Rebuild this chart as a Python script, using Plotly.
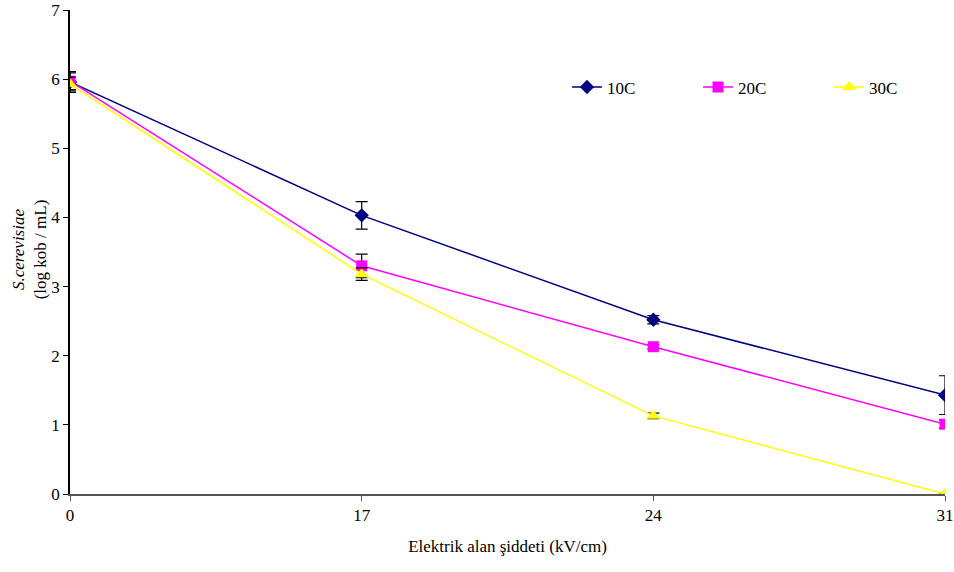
import plotly.graph_objects as go

categories = ["0", "17", "24", "31"]
series_names = ["10C", "20C", "30C"]
y_10c = [5.96, 4.03, 2.52, 1.43]
err_10c = [0.15, 0.20, 0.06, 0.28]
y_20c = [5.97, 3.30, 2.13, 1.01]
err_20c = [0.12, 0.17, 0.03, 0.06]
y_30c = [5.93, 3.18, 1.13, 0.0]
err_30c = [0.10, 0.09, 0.04, 0.0]
y_ticks = [0, 1, 2, 3, 4, 5, 6, 7]

colors = ["#000080", "#FF00FF", "#FFFF00"]
symbols = ["diamond", "square", "triangle-up"]
sizes = [11, 11, 12]

FONT = "'Liberation Serif', 'Times New Roman', Times, serif"
FS = 17
xs = list(range(len(categories)))

fig = go.Figure()
for name, ys, errs, c, s, sz in zip(series_names, [y_10c, y_20c, y_30c],
                                     [err_10c, err_20c, err_30c], colors, symbols, sizes):
    fig.add_trace(go.Scatter(
        x=xs, y=ys, name=name, mode="lines+markers",
        line=dict(color=c, width=1.5),
        marker=dict(symbol=s, size=sz, color=c),
        error_y=dict(type="data", array=errs, visible=True, color="black",
                     thickness=1.2, width=6),
    ))

fig.update_layout(
    width=954, height=572,
    margin=dict(l=70, r=9, t=10, b=78, autoexpand=False),
    plot_bgcolor="white", paper_bgcolor="white",
    font=dict(family=FONT, size=FS, color="black"),
    showlegend=True,
    legend=dict(orientation="h", x=0.568, y=0.84, xanchor="left", yanchor="middle",
                entrywidth=86, entrywidthmode="pixels",
                font=dict(family=FONT, size=FS, color="black"),
                bgcolor="rgba(0,0,0,0)", itemclick=False),
    xaxis=dict(
        range=[0, 3], tickmode="array", tickvals=xs, ticktext=categories,
        showgrid=False, zeroline=False, showline=True, linecolor="#555555", linewidth=1.5,
        ticks="outside", ticklen=5, tickcolor="#555555",
        tickfont=dict(family=FONT, size=FS),
        title=dict(text="Elektrik alan şiddeti (kV/cm)", font=dict(family=FONT, size=FS), standoff=16),
    ),
    yaxis=dict(
        range=[0, 7], tickvals=y_ticks, showgrid=False, zeroline=False,
        showline=True, linecolor="black", linewidth=1.5,
        ticks="outside", ticklen=5, tickcolor="black",
        tickfont=dict(family=FONT, size=FS),
    ),
    annotations=[dict(
        text="<i>S.cerevisiae</i><br>(log kob / mL)", textangle=-90,
        xref="paper", yref="paper", x=-0.046, y=0.505,
        xanchor="center", yanchor="middle", showarrow=False,
        font=dict(family=FONT, size=FS, color="black"),
    )],
)

fig.write_html("out.html")
